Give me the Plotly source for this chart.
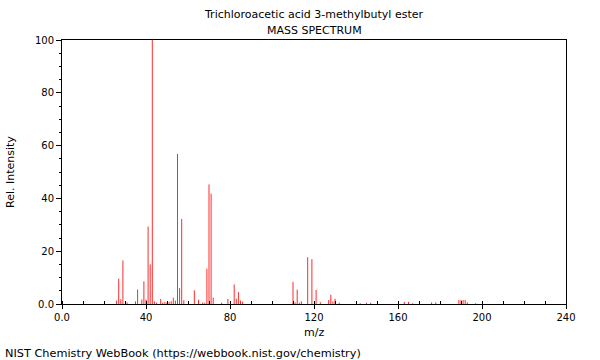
import plotly.graph_objects as go

mz = [26, 27, 28, 29, 31, 35, 36, 38, 39, 40, 41, 42, 43, 44, 45,
      47, 48, 49, 50, 51, 52, 53, 54, 55, 56, 57, 58,
      63, 65, 67, 68, 69, 70, 71, 72, 76, 79,
      82, 83, 84, 85, 86,
      110, 111, 112, 113, 114, 117, 119, 121, 123,
      127, 128, 129, 130, 132, 142, 145, 147,
      163, 165, 167, 176, 178,
      189, 190, 191, 192, 193, 197]
intensity = [1.3, 9.6, 1.8, 16.5, 0.6, 1.0, 5.5, 1.7, 8.6, 1.7, 29.3, 15.0, 100, 1.0, 0.5,
             1.9, 0.5, 0.8, 0.6, 0.8, 1.1, 2.4, 1.3, 56.8, 6.0, 32.2, 1.4,
             5.2, 1.6, 0.6, 0.5, 13.4, 45.3, 41.8, 2.4, 0.5, 1.9,
             7.4, 2.0, 4.5, 1.3, 0.9,
             8.4, 0.6, 5.4, 0.5, 1.0, 17.7, 17.0, 5.3, 0.7,
             1.5, 3.5, 1.0, 2.0, 0.5, 0.3, 0.5, 0.5,
             0.8, 0.8, 0.3, 0.6, 0.6,
             1.5, 1.5, 1.5, 1.5, 0.6, 0.3]

x_ticks = [0, 40, 80, 120, 160, 200, 240]
x_tick_text = ["0.0", "40", "80", "120", "160", "200", "240"]
y_ticks = [0, 20, 40, 60, 80, 100]
y_tick_text = ["0.0", "20", "40", "60", "80", "100"]

title_line1 = "Trichloroacetic acid 3-methylbutyl ester"
title_line2 = "MASS SPECTRUM"
footer = "NIST Chemistry WebBook (https://webbook.nist.gov/chemistry)"

FONT = "DejaVu Sans"
RED = "#ff2a2a"

# stick spectrum: each peak is a vertical segment from 0 to its intensity
stem_x, stem_y = [], []
for m, v in zip(mz, intensity):
    stem_x += [m, m, None]
    stem_y += [0, v, None]

fig = go.Figure()
fig.add_trace(go.Scatter(x=stem_x, y=stem_y, mode="lines",
                         line=dict(color=RED, width=1),
                         showlegend=False, hoverinfo="skip", connectgaps=False))

axis_common = dict(showline=True, linecolor="#000000", linewidth=1, mirror=True,
                   showgrid=False, zeroline=False,
                   tickfont=dict(family=FONT, size=10, color="#000000"),
                   tickcolor="#000000", tickwidth=1)

fig.update_layout(
    width=600, height=360,
    margin=dict(l=62, r=34, t=40, b=56, pad=0),
    paper_bgcolor="white", plot_bgcolor="white",
    font=dict(family=FONT, size=10, color="#000000"),
    xaxis=dict(range=[0, 240], tickvals=x_ticks, ticktext=x_tick_text,
               ticks="outside", ticklen=4,
               minor=dict(dtick=10, tick0=0, ticks="inside", ticklen=3, tickcolor="#000000"),
               **axis_common),
    yaxis=dict(range=[0, 100], tickvals=y_ticks, ticktext=y_tick_text,
               ticks="outside", ticklen=5,
               minor=dict(dtick=5, tick0=0, ticks="outside", ticklen=2, tickcolor="#000000"),
               **axis_common),
    annotations=[
        dict(text=title_line1, xref="paper", yref="paper", x=0.5, y=(40 - 14) / 264 + 1,
             xanchor="center", yanchor="middle", showarrow=False,
             font=dict(family=FONT, size=11)),
        dict(text=title_line2, xref="paper", yref="paper", x=0.5, y=(40 - 30) / 264 + 1,
             xanchor="center", yanchor="middle", showarrow=False,
             font=dict(family=FONT, size=11)),
        dict(text="m/z", xref="paper", yref="paper", x=0.5, y=-(332 - 304) / 264,
             xanchor="center", yanchor="middle", showarrow=False,
             font=dict(family=FONT, size=11)),
        dict(text="Rel. Intensity", xref="paper", yref="paper", x=(10 - 62) / 504, y=0.5,
             xanchor="center", yanchor="middle", showarrow=False, textangle=-90,
             font=dict(family=FONT, size=11)),
        dict(text=footer, xref="paper", yref="paper", x=(3 - 62) / 504, y=-(353 - 304) / 264,
             xanchor="left", yanchor="middle", showarrow=False,
             font=dict(family=FONT, size=11.3)),
    ],
)

fig.write_html("out.html", config={"staticPlot": True, "displayModeBar": False},
               post_script="document.body.style.margin='0';document.body.style.overflow='hidden';")
